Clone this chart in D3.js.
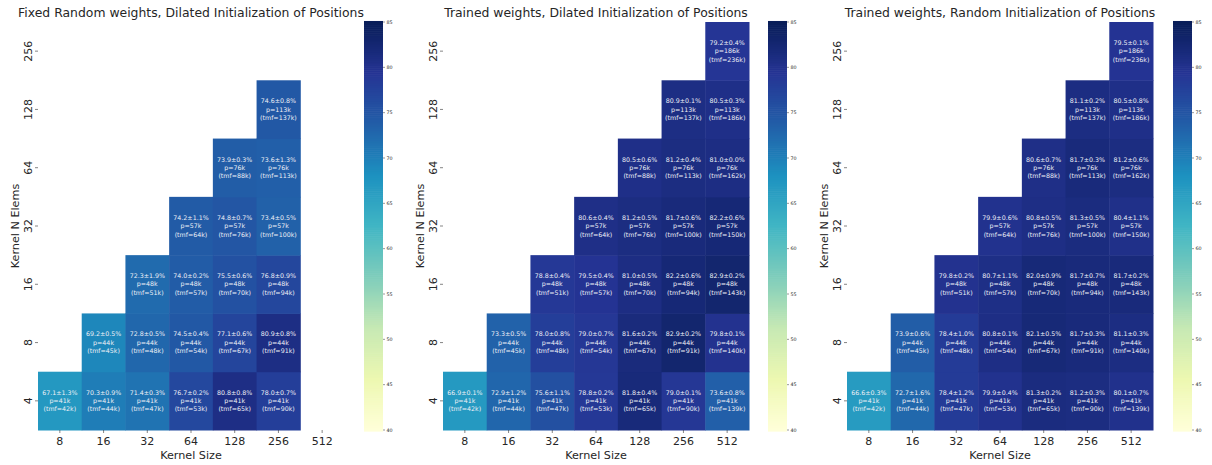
<!DOCTYPE html>
<html>
<head>
<meta charset="utf-8">
<script src="https://cdn.jsdelivr.net/npm/d3@7"></script>
<style>
  body { margin: 0; background: #fff; }
  text { font-family: "DejaVu Sans", sans-serif; }
</style>
</head>
<body>
<div id="chart"></div>
<script>
// kernel size along x, number of kernel elements along y
const kernelSizes = [8, 16, 32, 64, 128, 256, 512];
const nElems = [4, 8, 16, 32, 64, 128, 256];
const paramsByRow = ['41k', '44k', '48k', '57k', '76k', '113k', '186k'];
// tmf (k) per row (nElems) and column (kernelSizes)
const tmfTable = [
  [42, 44, 47, 53, 65, 90, 139],
  [null, 45, 48, 54, 67, 91, 140],
  [null, null, 51, 57, 70, 94, 143],
  [null, null, null, 64, 76, 100, 150],
  [null, null, null, null, 88, 113, 162],
  [null, null, null, null, null, 137, 186],
  [null, null, null, null, null, null, 236]
];
const colorTicks = [40, 45, 50, 55, 60, 65, 70, 75, 80, 85];

// Fixed Random weights, Dilated Initialization of Positions
const fixedMean = [
  [67.1, 70.3, 71.4, 76.7, 80.8, 78.0, null],
  [null, 69.2, 72.8, 74.5, 77.1, 80.9, null],
  [null, null, 72.3, 74.0, 75.5, 76.8, null],
  [null, null, null, 74.2, 74.8, 73.4, null],
  [null, null, null, null, 73.9, 73.6, null],
  [null, null, null, null, null, 74.6, null],
  [null, null, null, null, null, null, null]
];
const fixedStd = [
  [1.3, 0.9, 0.3, 0.2, 0.8, 0.7, null],
  [null, 0.5, 0.5, 0.4, 0.6, 0.8, null],
  [null, null, 1.9, 0.2, 0.6, 0.9, null],
  [null, null, null, 1.1, 0.7, 0.5, null],
  [null, null, null, null, 0.3, 1.3, null],
  [null, null, null, null, null, 0.8, null],
  [null, null, null, null, null, null, null]
];

// Trained weights, Dilated Initialization of Positions
const dilatedMean = [
  [66.9, 72.9, 75.6, 78.8, 81.8, 79.0, 73.6],
  [null, 73.3, 78.0, 79.0, 81.6, 82.9, 79.8],
  [null, null, 78.8, 79.5, 81.0, 82.2, 82.9],
  [null, null, null, 80.6, 81.2, 81.7, 82.2],
  [null, null, null, null, 80.5, 81.2, 81.0],
  [null, null, null, null, null, 80.9, 80.5],
  [null, null, null, null, null, null, 79.2]
];
const dilatedStd = [
  [0.1, 1.2, 1.1, 0.2, 0.4, 0.1, 0.8],
  [null, 0.5, 0.8, 0.7, 0.2, 0.2, 0.1],
  [null, null, 0.4, 0.4, 0.5, 0.6, 0.2],
  [null, null, null, 0.4, 0.5, 0.6, 0.6],
  [null, null, null, null, 0.6, 0.4, 0.0],
  [null, null, null, null, null, 0.1, 0.3],
  [null, null, null, null, null, null, 0.4]
];

// Trained weights, Random Initialization of Positions
const randomMean = [
  [66.6, 72.7, 78.4, 79.9, 81.3, 81.2, 80.1],
  [null, 73.9, 78.4, 80.8, 82.1, 81.7, 81.1],
  [null, null, 79.8, 80.7, 82.0, 81.7, 81.7],
  [null, null, null, 79.9, 80.8, 81.3, 80.4],
  [null, null, null, null, 80.6, 81.7, 81.2],
  [null, null, null, null, null, 81.1, 80.5],
  [null, null, null, null, null, null, 79.5]
];
const randomStd = [
  [0.3, 1.6, 1.2, 0.4, 0.2, 0.3, 0.7],
  [null, 0.6, 1.0, 0.1, 0.5, 0.3, 0.3],
  [null, null, 0.2, 1.1, 0.9, 0.7, 0.2],
  [null, null, null, 0.6, 0.5, 0.5, 1.1],
  [null, null, null, null, 0.7, 0.3, 0.6],
  [null, null, null, null, null, 0.2, 0.8],
  [null, null, null, null, null, null, 0.1]
];

const panels = [
  { title: 'Fixed Random weights, Dilated Initialization of Positions', mean: fixedMean, std: fixedStd, left: 38, cbLeft: 364 },
  { title: 'Trained weights, Dilated Initialization of Positions', mean: dilatedMean, std: dilatedStd, left: 443, cbLeft: 768 },
  { title: 'Trained weights, Random Initialization of Positions', mean: randomMean, std: randomStd, left: 847, cbLeft: 1173 }
];

const W = 1212, H = 465;
const plotW = 306, plotTop = 22, plotBottom = 430, cbW = 19;

const color = d3.scaleSequential(d3.piecewise(d3.interpolateRgb, d3.schemeYlGnBu[9]))
  .domain([40, 85]);

const svg = d3.select('#chart').append('svg')
  .attr('width', W)
  .attr('height', H);

panels.forEach(function (p) {
  const x = d3.scaleBand().domain(kernelSizes).range([p.left, p.left + plotW]);
  const y = d3.scaleBand().domain(nElems).range([plotBottom, plotTop]);

  const g = svg.append('g');

  // cells
  const cells = [];
  p.mean.forEach(function (row, i) {
    row.forEach(function (v, j) {
      if (v !== null) {
        cells.push({ n: nElems[i], k: kernelSizes[j], v: v, s: p.std[i][j], p: paramsByRow[i], tmf: tmfTable[i][j] });
      }
    });
  });

  g.selectAll('rect.cell')
    .data(cells)
    .enter().append('rect')
    .attr('class', 'cell')
    .attr('x', d => x(d.k))
    .attr('y', d => y(d.n))
    .attr('width', x.bandwidth() + 0.5)
    .attr('height', y.bandwidth() + 0.5)
    .attr('fill', d => color(d.v));

  const labels = g.selectAll('text.annot')
    .data(cells)
    .enter().append('text')
    .attr('class', 'annot')
    .attr('text-anchor', 'middle')
    .attr('font-size', '6.3px')
    .attr('fill', '#eef0f6');
  labels.each(function (d) {
    const cx = x(d.k) + x.bandwidth() / 2;
    const cy = y(d.n) + y.bandwidth() / 2;
    const lines = [d.v.toFixed(1) + '±' + d.s.toFixed(1) + '%', 'p=' + d.p, '(tmf=' + d.tmf + 'k)'];
    lines.forEach(function (l, li) {
      d3.select(this).append('tspan')
        .attr('x', cx)
        .attr('y', cy + (li - 1) * 8.4 + 2.2)
        .text(l);
    }, this);
  });

  // x axis
  const xTicks = g.append('g');
  kernelSizes.forEach(function (k) {
    const cx = x(k) + x.bandwidth() / 2;
    xTicks.append('line')
      .attr('x1', cx).attr('x2', cx)
      .attr('y1', plotBottom).attr('y2', plotBottom + 3)
      .attr('stroke', '#333').attr('stroke-width', 0.6);
    xTicks.append('text')
      .attr('x', cx).attr('y', plotBottom + 15)
      .attr('text-anchor', 'middle')
      .attr('font-size', '11px')
      .attr('fill', '#262626')
      .text(k);
  });
  g.append('text')
    .attr('x', p.left + plotW / 2).attr('y', plotBottom + 29)
    .attr('text-anchor', 'middle')
    .attr('font-size', '11.2px')
    .attr('fill', '#262626')
    .text('Kernel Size');

  // y axis
  const yTicks = g.append('g');
  nElems.forEach(function (n) {
    const cy = y(n) + y.bandwidth() / 2;
    yTicks.append('line')
      .attr('x1', p.left - 3).attr('x2', p.left)
      .attr('y1', cy).attr('y2', cy)
      .attr('stroke', '#333').attr('stroke-width', 0.6);
    yTicks.append('text')
      .attr('transform', 'translate(' + (p.left - 6) + ',' + cy + ') rotate(-90)')
      .attr('text-anchor', 'middle')
      .attr('font-size', '11px')
      .attr('fill', '#262626')
      .text(n);
  });
  g.append('text')
    .attr('transform', 'translate(' + (p.left - 19) + ',' + ((plotTop + plotBottom) / 2) + ') rotate(-90)')
    .attr('text-anchor', 'middle')
    .attr('font-size', '11.2px')
    .attr('fill', '#262626')
    .text('Kernel N Elems');

  // title
  g.append('text')
    .attr('x', p.left + plotW / 2).attr('y', 17)
    .attr('text-anchor', 'middle')
    .attr('font-size', '12.4px')
    .attr('fill', '#262626')
    .text(p.title);

  // colorbar
  const cbScale = d3.scaleLinear().domain([40, 85]).range([plotBottom, plotTop]);
  const steps = d3.range(0, 200).map(i => 40 + 45 * i / 199);
  const stepH = (plotBottom - plotTop) / 199;
  g.selectAll('rect.cb')
    .data(steps)
    .enter().append('rect')
    .attr('class', 'cb')
    .attr('x', p.cbLeft)
    .attr('y', d => cbScale(d) - stepH / 2)
    .attr('width', cbW)
    .attr('height', stepH + 0.6)
    .attr('fill', d => color(d));
  const cbAxis = g.append('g');
  colorTicks.forEach(function (t) {
    cbAxis.append('line')
      .attr('x1', p.cbLeft + cbW).attr('x2', p.cbLeft + cbW + 2)
      .attr('y1', cbScale(t)).attr('y2', cbScale(t))
      .attr('stroke', '#333').attr('stroke-width', 0.5);
    cbAxis.append('text')
      .attr('x', p.cbLeft + cbW + 3.5).attr('y', cbScale(t) + 1.7)
      .attr('font-size', '4.8px')
      .attr('fill', '#262626')
      .text(t);
  });
});
</script>
</body>
</html>
